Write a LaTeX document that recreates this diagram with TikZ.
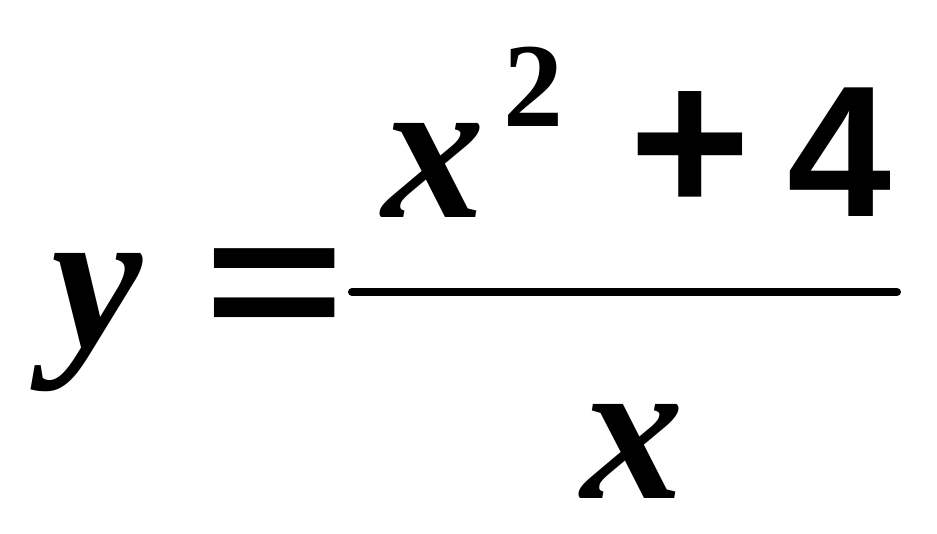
\documentclass[tikz,border=0pt]{standalone}
\usepackage{fontspec}
\setmainfont{Liberation Serif}
\newfontfamily\sansb{Liberation Sans}
\begin{document}
\begin{tikzpicture}[x=1pt,y=-1pt,
  big/.style={inner sep=0pt,font=\fontsize{205}{205}\selectfont\bfseries},
  sup/.style={inner sep=0pt,font=\fontsize{120}{120}\selectfont\bfseries},
  opsym/.style={inner sep=0pt,font=\fontsize{#1}{#1}\selectfont\sansb\bfseries}]
\useasboundingbox (0,0) rectangle (937,534);
\fill[white] (0,0) rectangle (937,534);
\node[big,anchor=base west] (y) at (51,348) {\itshape y};
\node[opsym=240,anchor=center] (eq) at (274.5,296) {\scalebox{1}[0.76]{=}};
\node[big,anchor=base west] (x1) at (382,218) {\itshape x};
\node[sup,anchor=base west] (two) at (503,127) {2};
\node[opsym=208,anchor=center] (plus) at (690,153) {+};
\node[opsym=187,anchor=base west] (four) at (787,217) {4};
\coordinate (l1) at (352,292);
\coordinate (l2) at (897,292);
\draw[line width=8pt,line cap=round] (l1) -- (l2);
\node[big,anchor=base west] (x2) at (581,498) {\itshape x};
\end{tikzpicture}
\end{document}
